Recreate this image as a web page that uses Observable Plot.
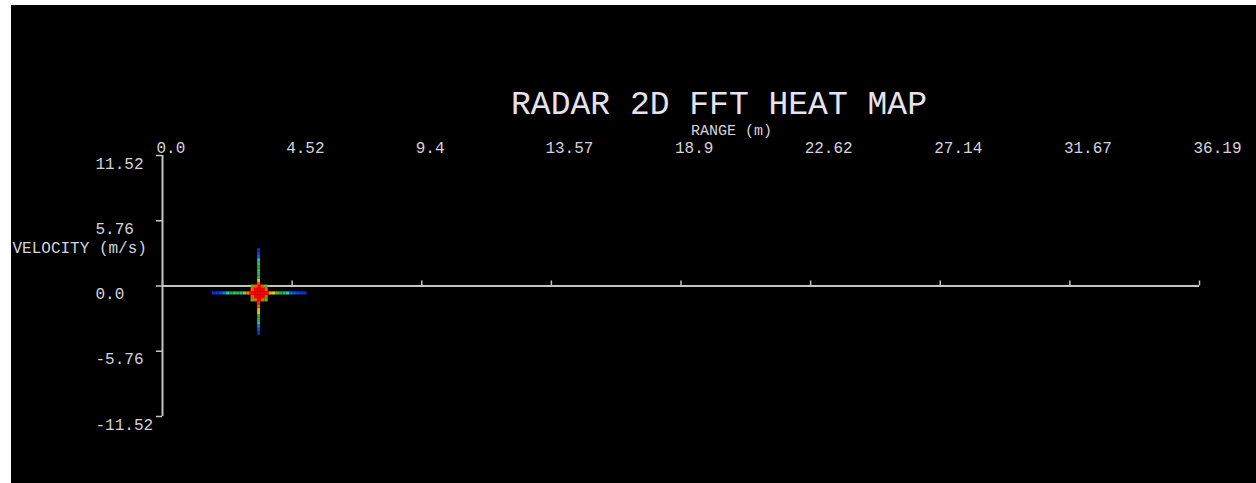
<!DOCTYPE html>
<html>
<head>
<meta charset="utf-8">
<script src="https://cdn.jsdelivr.net/npm/d3@7"></script>
<script src="https://cdn.jsdelivr.net/npm/@observablehq/plot@0.6"></script>
<style>
  html, body { margin: 0; padding: 0; background: #ffffff; }
  #wrap { padding: 5px 0 0 11px; width: 1245px; height: 478px; }
  svg { display: block; background: #000000; }
</style>
</head>
<body>
<div id="wrap"></div>
<script>
// ---- chart text ----
const title = "RADAR 2D FFT HEAT MAP";
const xLabel = "RANGE (m)";
const yLabel = "VELOCITY (m/s)";

// ---- axes ----
const rangeMax = 36.19;
const velocityMax = 11.52;
const xTickLabels = ["0.0", "4.52", "9.4", "13.57", "18.9", "22.62", "27.14", "31.67", "36.19"];
const yTickValues = [11.52, 5.76, 0, -5.76, -11.52];
const yTickLabels = ["11.52", "5.76", "0.0", "-5.76", "-11.52"];

// ---- detected target (peak of the 2D FFT) ----
const peakRange = 3.37;      // m
const peakVelocity = -0.66;  // m/s

// horizontal arm (range bins at the peak velocity) and its normalised intensity
const armRanges = [1.8, 1.92, 2.04, 2.16, 2.28, 2.4, 2.52, 2.64, 2.76, 2.88, 3.0, 3.12,
                   3.66, 3.78, 3.9, 4.02, 4.14, 4.26, 4.38, 4.5, 4.62, 4.74, 4.86, 4.98];
const armRangeIntensity = [0.06, 0.07, 0.09, 0.14, 0.34, 0.5, 0.55, 0.45, 0.38, 0.62, 0.86, 0.96,
                           0.96, 0.82, 0.72, 0.56, 0.5, 0.42, 0.3, 0.13, 0.1, 0.08, 0.07, 0.06];

// vertical arm (velocity bins at the peak range) and its normalised intensity
const armVelocities = [3.15, 2.85, 2.55, 2.25, 1.95, 1.65, 1.35, 1.05, 0.75, 0.45, 0.15,
                       -1.5, -1.8, -2.1, -2.4, -2.7, -3.0, -3.3, -3.6, -3.9, -4.2];
const armVelocityIntensity = [0.06, 0.08, 0.12, 0.3, 0.4, 0.5, 0.55, 0.45, 0.4, 0.7, 0.9,
                              0.95, 0.9, 0.8, 0.7, 0.52, 0.48, 0.34, 0.14, 0.09, 0.06];

// core of the peak
const coreRanges = [3.15, 3.27, 3.39, 3.51, 3.63];
const coreVelocities = [-0.06, -0.36, -0.66, -0.96, -1.26];
const coreIntensity = [
  [0.55, 0.9, 1.0, 0.9, 0.55],
  [0.9, 1.0, 1.0, 1.0, 0.9],
  [1.0, 1.0, 1.0, 1.0, 1.0],
  [0.9, 1.0, 1.0, 1.0, 0.9],
  [0.55, 0.9, 1.0, 0.9, 0.55]
];

// ---- build cells ----
const dr = 0.06, dv = 0.15, armHalfV = 0.14, armHalfR = 0.05;
const cells = [];
armRanges.forEach((r, i) => cells.push({x1: r - dr, x2: r + dr, y1: peakVelocity - armHalfV, y2: peakVelocity + armHalfV, v: armRangeIntensity[i]}));
armVelocities.forEach((v, i) => cells.push({x1: peakRange - armHalfR, x2: peakRange + armHalfR, y1: v - dv, y2: v + dv, v: armVelocityIntensity[i]}));
coreVelocities.forEach((v, j) => coreRanges.forEach((r, i) =>
  cells.push({x1: r - dr, x2: r + dr, y1: v - dv, y2: v + dv, v: coreIntensity[j][i]})));
cells.sort((a, b) => a.v - b.v);

const xTickPositions = xTickLabels.map((_, i) => i * rangeMax / (xTickLabels.length - 1));
const xTicks = xTickLabels.map((label, i) => ({x: xTickPositions[i], label}));
const yTicks = yTickValues.map((y, i) => ({y, label: yTickLabels[i]}));

const font = "'Liberation Mono', 'DejaVu Sans Mono', monospace";
const axisColor = "#c4c4c4";
const textColor = "#d6d3dc";

const chart = Plot.plot({
  width: 1245,
  height: 478,
  marginLeft: 151,
  marginRight: 57,
  marginTop: 150,
  marginBottom: 67,
  style: {background: "#000000", fontFamily: font, overflow: "visible"},
  x: {domain: [0, rangeMax], axis: null},
  y: {domain: [-velocityMax, velocityMax], axis: null},
  color: {type: "linear", domain: [0, 0.25, 0.5, 0.75, 1],
          range: ["#0000d8", "#20c8e0", "#20b040", "#f0d800", "#ff0000"]},
  marks: [
    // axis lines
    Plot.ruleX([0], {stroke: axisColor, strokeWidth: 2}),
    Plot.ruleY([0], {stroke: axisColor, strokeWidth: 2}),
    // x ticks on the zero-velocity line, pointing up
    Plot.ruleX(xTicks, {x: "x", y1: 0, y2: 0, insetTop: -5, stroke: axisColor, strokeWidth: 1.5}),
    // y ticks pointing left
    Plot.ruleY(yTicks, {y: "y", x1: 0, x2: 0, insetLeft: -6, stroke: axisColor, strokeWidth: 1.5}),
    // heat map
    Plot.rect(cells, {x1: "x1", x2: "x2", y1: "y1", y2: "y2", fill: "v"}),
    // x tick labels (top)
    Plot.text(xTicks, {x: "x", text: "label", frameAnchor: "top", dy: -8, dx: -6,
      textAnchor: "start", lineAnchor: "middle", fill: textColor, fontSize: 16, fontFamily: font}),
    // y tick labels
    Plot.text(yTicks, {y: "y", text: "label", frameAnchor: "left", dx: -67, dy: 8,
      textAnchor: "start", lineAnchor: "middle", fill: textColor, fontSize: 16, fontFamily: font}),
    // x label
    Plot.text([xLabel], {frameAnchor: "top", dx: 10, dy: -25, textAnchor: "start", lineAnchor: "middle",
      fill: textColor, fontSize: 15, fontFamily: font}),
    // y label
    Plot.text([yLabel], {frameAnchor: "left", dx: -150, dy: -38, textAnchor: "start", lineAnchor: "middle",
      fill: textColor, fontSize: 16, fontFamily: font}),
    // title
    Plot.text([title], {frameAnchor: "top", dx: 38, dy: -52, textAnchor: "middle", lineAnchor: "middle",
      fill: "#e6e2ee", fontSize: 33, fontFamily: font})
  ]
});
document.getElementById("wrap").appendChild(chart);
</script>
</body>
</html>
